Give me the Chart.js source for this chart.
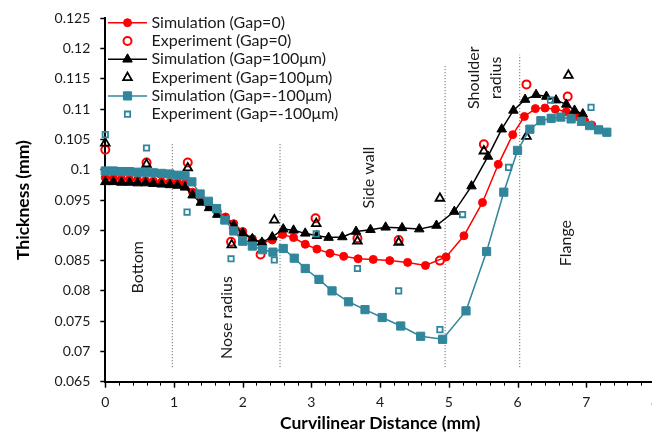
<!DOCTYPE html>
<html>
<head>
<meta charset="utf-8">
<script src="https://cdn.jsdelivr.net/npm/chart.js@4/dist/chart.umd.min.js"></script>
<style>
  html, body { margin: 0; padding: 0; background: #fff; overflow: hidden; }
  #wrap { width: 671px; height: 445px; }
</style>
</head>
<body>
<div id="wrap"><canvas id="thickness" width="671" height="445"></canvas></div>
<script>
// thickness (mm) along the curvilinear distance (mm)
const simGap0X = [0, 0.117, 0.235, 0.352, 0.47, 0.587, 0.70, 0.82, 0.94, 1.05, 1.16, 1.27, 1.39, 1.51, 1.63, 1.75, 1.87, 2.0, 2.14, 2.28, 2.43, 2.58, 2.74, 2.91, 3.08, 3.27, 3.47, 3.68, 3.90, 4.14, 4.40, 4.66, 4.96, 5.22, 5.49, 5.72, 5.93, 6.10, 6.26, 6.40, 6.55, 6.71, 6.86, 6.98, 7.08];
const simGap0Y = [0.0987, 0.0986, 0.0985, 0.0984, 0.0983, 0.0982, 0.0981, 0.0980, 0.0979, 0.0978, 0.0977, 0.0963, 0.0952, 0.0941, 0.0931, 0.0922, 0.0911, 0.0898, 0.0886, 0.0879, 0.0884, 0.0893, 0.0888, 0.0877, 0.0869, 0.0862, 0.0857, 0.0853, 0.0852, 0.0850, 0.0847, 0.0842, 0.0856, 0.0891, 0.0946, 0.1009, 0.1058, 0.1088, 0.1101, 0.1102, 0.1100, 0.1096, 0.1089, 0.1080, 0.1074];

const expGap0X = [0, 0.6, 1.2, 1.83, 2.26, 3.06, 3.67, 4.27, 4.87, 5.51, 6.13, 6.73];
const expGap0Y = [0.1033, 0.1012, 0.1012, 0.0881, 0.0860, 0.0920, 0.0887, 0.0884, 0.0850, 0.1042, 0.1141, 0.1121];

const simGap100X = [0, 0.117, 0.235, 0.352, 0.47, 0.587, 0.70, 0.82, 0.94, 1.05, 1.16, 1.27, 1.39, 1.51, 1.63, 1.75, 1.87, 2.0, 2.14, 2.28, 2.43, 2.59, 2.74, 2.91, 3.08, 3.25, 3.45, 3.65, 3.86, 4.08, 4.32, 4.57, 4.82, 5.08, 5.33, 5.57, 5.77, 5.94, 6.11, 6.27, 6.42, 6.56, 6.71, 6.83, 6.95];
const simGap100Y = [0.0980, 0.0980, 0.0979, 0.0979, 0.0978, 0.0978, 0.0977, 0.0976, 0.0975, 0.0974, 0.0971, 0.0958, 0.0946, 0.0937, 0.0926, 0.0917, 0.0908, 0.0895, 0.0886, 0.0880, 0.0889, 0.0902, 0.0900, 0.0895, 0.0891, 0.0888, 0.0889, 0.0898, 0.0901, 0.0905, 0.0904, 0.0902, 0.0908, 0.0931, 0.0973, 0.1022, 0.1067, 0.1098, 0.1116, 0.1124, 0.1121, 0.1115, 0.1108, 0.1098, 0.1092];

const expGap100X = [0, 0.6, 1.2, 1.84, 2.46, 3.07, 3.67, 4.27, 4.87, 5.51, 6.13, 6.74];
const expGap100Y = [0.1044, 0.1009, 0.1003, 0.0876, 0.0917, 0.0911, 0.0882, 0.0880, 0.0953, 0.1031, 0.1055, 0.1156];

const simNeg100X = [0, 0.117, 0.235, 0.352, 0.47, 0.587, 0.70, 0.82, 0.94, 1.05, 1.16, 1.26, 1.38, 1.50, 1.62, 1.74, 1.87, 2.0, 2.14, 2.29, 2.44, 2.59, 2.75, 2.91, 3.11, 3.30, 3.54, 3.78, 4.03, 4.30, 4.59, 4.91, 5.25, 5.55, 5.80, 6.00, 6.18, 6.34, 6.49, 6.63, 6.78, 6.93, 7.05, 7.18, 7.30];
const simNeg100Y = [0.0998, 0.0998, 0.0997, 0.0997, 0.0996, 0.0996, 0.0995, 0.0994, 0.0993, 0.0991, 0.0990, 0.0980, 0.0960, 0.0948, 0.0936, 0.0917, 0.0899, 0.0882, 0.0874, 0.0868, 0.0864, 0.0870, 0.0854, 0.0837, 0.0819, 0.0800, 0.0782, 0.0769, 0.0756, 0.0742, 0.0725, 0.0720, 0.0767, 0.0865, 0.0963, 0.1032, 0.1067, 0.1081, 0.1085, 0.1087, 0.1084, 0.1080, 0.1073, 0.1066, 0.1062];

const expNeg100X = [0, 0.6, 1.19, 1.83, 2.46, 3.07, 3.67, 4.27, 4.87, 5.20, 5.87, 6.48, 7.07];
const expNeg100Y = [0.1058, 0.1036, 0.0930, 0.0853, 0.0851, 0.0894, 0.0837, 0.0800, 0.0736, 0.0926, 0.1004, 0.1115, 0.1103];

// section boundaries along the part
const dividerX = [0.975, 2.543, 4.946, 6.032];
const dividerTop = [0.1043, 0.1043, 0.1173, 0.1190];
const dividerBottom = 0.0674;

const regionLabels = [
    { text: 'Bottom', x: 0.47, y: 0.0839 },
    { text: 'Nose radius', x: 1.77, y: 0.0756 },
    { text: 'Side wall', x: 3.83, y: 0.0987 },
    { text: 'Shoulder', x: 5.36, y: 0.1152 },
    { text: 'radius', x: 5.69, y: 0.1152 },
    { text: 'Flange', x: 6.71, y: 0.0879 }
];

const RED = '#FF0000';
const BLACK = '#000000';
const TEAL = '#31869B';
const FONT = 'Lato, "Liberation Sans", sans-serif';

function points(xs, ys) {
    return xs.map(function (x, i) { return { x: x, y: ys[i] }; });
}

function simSeries(label, xs, ys, colour, style, radius, order) {
    return {
        label: label,
        data: points(xs, ys),
        showLine: true,
        borderColor: colour,
        borderWidth: 1.5,
        backgroundColor: colour,
        pointStyle: style,
        pointRadius: radius,
        pointBorderWidth: 1,
        pointBorderColor: colour,
        pointBackgroundColor: colour,
        tension: 0,
        clip: false,
        order: order
    };
}

function expSeries(label, xs, ys, colour, style, radius, width, order) {
    return {
        label: label,
        data: points(xs, ys),
        showLine: false,
        borderColor: colour,
        backgroundColor: 'rgba(0,0,0,0)',
        pointStyle: style,
        pointRadius: radius,
        pointBorderWidth: width,
        pointBorderColor: colour,
        pointBackgroundColor: 'rgba(0,0,0,0)',
        clip: false,
        order: order
    };
}

const datasets = [
    simSeries('Simulation (Gap=0)', simGap0X, simGap0Y, RED, 'circle', 4, 5),
    expSeries('Experiment (Gap=0)', expGap0X, expGap0Y, RED, 'circle', 4, 2, 4),
    simSeries('Simulation (Gap=100μm)', simGap100X, simGap100Y, BLACK, 'triangle', 5.5, 3),
    expSeries('Experiment (Gap=100μm)', expGap100X, expGap100Y, BLACK, 'triangle', 5, 1.8, 2),
    simSeries('Simulation (Gap=-100μm)', simNeg100X, simNeg100Y, TEAL, 'rect', 5.8, 1),
    expSeries('Experiment (Gap=-100μm)', expNeg100X, expNeg100Y, TEAL, 'rect', 3.8, 1.8, 0)
];

for (let i = 0; i < dividerX.length; i++) {
    datasets.push({
        data: [{ x: dividerX[i], y: dividerBottom }, { x: dividerX[i], y: dividerTop[i] }],
        showLine: true,
        borderColor: '#555',
        borderWidth: 1,
        borderDash: [1, 2],
        pointRadius: 0,
        order: 10
    });
}

// minor and major tick marks under the x axis
const xTickMarks = {
    id: 'xTickMarks',
    afterDraw(chart) {
        const s = chart.scales.x;
        const ctx = chart.ctx;
        ctx.save();
        ctx.strokeStyle = '#000';
        s.ticks.forEach(function (t) {
            const major = Math.abs(t.value - Math.round(t.value)) < 1e-6;
            const px = Math.round(s.getPixelForValue(t.value)) + 0.5;
            ctx.lineWidth = major ? 1.5 : 1;
            ctx.beginPath();
            ctx.moveTo(px, s.top);
            ctx.lineTo(px, s.top + (major ? 6 : 4));
            ctx.stroke();
        });
        ctx.restore();
    }
};

// vertical section names
const sectionNames = {
    id: 'sectionNames',
    beforeDatasetsDraw(chart) {
        const ctx = chart.ctx;
        ctx.save();
        ctx.fillStyle = '#1a1a1a';
        ctx.font = '16px ' + FONT;
        ctx.textAlign = 'center';
        ctx.textBaseline = 'middle';
        regionLabels.forEach(function (r) {
            ctx.save();
            ctx.translate(chart.scales.x.getPixelForValue(r.x), chart.scales.y.getPixelForValue(r.y));
            ctx.rotate(-Math.PI / 2);
            ctx.fillText(r.text, 0, 0);
            ctx.restore();
        });
        ctx.restore();
    }
};

// legend with line + marker samples
const lineLegend = {
    id: 'lineLegend',
    afterDraw(chart) {
        const ctx = chart.ctx;
        ctx.save();
        ctx.font = '16px ' + FONT;
        ctx.textBaseline = 'middle';
        ctx.textAlign = 'left';
        let row = 0;
        chart.data.datasets.forEach(function (ds) {
            if (!ds.label) return;
            const y = 22.7 + row * 18.3;
            row++;
            if (ds.showLine) {
                ctx.strokeStyle = ds.borderColor;
                ctx.lineWidth = 1.5;
                ctx.beginPath();
                ctx.moveTo(108, y);
                ctx.lineTo(147, y);
                ctx.stroke();
            }
            ctx.fillStyle = ds.pointBackgroundColor;
            ctx.strokeStyle = ds.pointBorderColor;
            ctx.lineWidth = ds.pointBorderWidth;
            Chart.helpers.drawPoint(ctx, {
                pointStyle: ds.pointStyle,
                radius: ds.pointRadius,
                borderWidth: ds.pointBorderWidth,
                rotation: 0
            }, 127.5, y);
            ctx.fillStyle = '#1a1a1a';
            ctx.fillText(ds.label, 151.5, y);
        });
        ctx.restore();
    }
};

new Chart(document.getElementById('thickness'), {
    type: 'scatter',
    data: { datasets: datasets },
    options: {
        responsive: false,
        animation: false,
        layout: { padding: { top: 14, right: 5.5, bottom: 0, left: 0 } },
        plugins: {
            legend: { display: false },
            tooltip: { enabled: false }
        },
        scales: {
            x: {
                type: 'linear',
                min: 0,
                max: 8,
                afterFit: function (scale) { scale.height = 63.3; },
                border: { display: true, color: '#000', width: 2 },
                grid: { display: true, drawOnChartArea: false, drawTicks: false },
                ticks: {
                    stepSize: 0.2,
                    autoSkip: false,
                    maxRotation: 0,
                    padding: 12,
                    color: '#1a1a1a',
                    font: { family: FONT, size: 14 },
                    callback: function (v) {
                        return Math.abs(v - Math.round(v)) < 1e-6 ? String(Math.round(v)) : '';
                    }
                },
                title: {
                    display: true,
                    text: 'Curvilinear Distance (mm)',
                    color: '#000',
                    font: { family: FONT, size: 17.5, weight: 'bold' },
                    padding: { top: 0, bottom: 11 }
                }
            },
            y: {
                type: 'linear',
                min: 0.065,
                max: 0.125,
                afterFit: function (scale) { scale.width = 105.3; },
                border: { display: true, color: '#000', width: 2 },
                grid: { display: true, drawOnChartArea: false, drawTicks: true, tickLength: 5, tickColor: '#000', tickWidth: 1.5 },
                ticks: {
                    stepSize: 0.005,
                    padding: 10,
                    color: '#1a1a1a',
                    font: { family: FONT, size: 14 },
                    callback: function (v) { return String(parseFloat(v.toFixed(3))); }
                },
                title: {
                    display: true,
                    text: 'Thickness (mm)',
                    color: '#000',
                    font: { family: FONT, size: 17.5, weight: 'bold' },
                    padding: { top: 13, bottom: 0 }
                }
            }
        }
    },
    plugins: [xTickMarks, sectionNames, lineLegend]
});
</script>
</body>
</html>
